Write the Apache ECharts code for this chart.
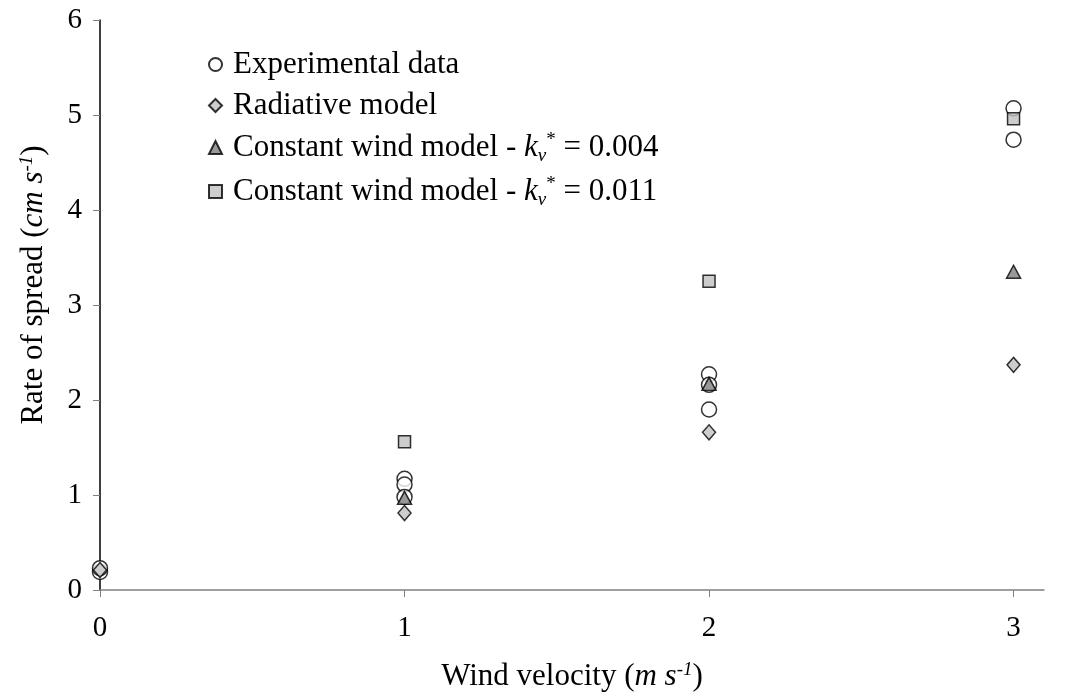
<!DOCTYPE html>
<html>
<head>
<meta charset="utf-8">
<script src="https://cdn.jsdelivr.net/npm/echarts@6/dist/echarts.min.js"></script>
<style>
  html, body { margin: 0; padding: 0; background: #fff; }
  #main { width: 1071px; height: 700px; }
</style>
</head>
<body>
<div id="main"></div>
<script>
// wind velocity (m/s) vs rate of spread (cm/s)
var experimental = [[0, 0.19], [0, 0.23], [1, 1.17], [1, 1.11], [1, 0.98], [2, 2.27], [2, 2.16], [2, 1.90], [3, 5.07], [3, 4.74]];
var radiative = [[0, 0.21], [1, 0.81], [2, 1.66], [3, 2.37]];
var windLow = [[1, 0.97], [2, 2.17], [3, 3.35]];   // k_v* = 0.004
var windHigh = [[1, 1.56], [2, 3.25], [3, 4.96]];  // k_v* = 0.011
var xTicks = [0, 1, 2, 3];

var font = 'Liberation Serif';
var myChart = echarts.init(document.getElementById('main'));

var rich = {
    it: { fontFamily: font, fontSize: 31, fontStyle: 'italic', color: '#000' },
    sub: { fontFamily: font, fontSize: 19, fontStyle: 'italic', color: '#000', padding: [16, 0, 0, 0] },
    sup: { fontFamily: font, fontSize: 19, color: '#000', padding: [0, 0, 14, 0] },
    supi: { fontFamily: font, fontSize: 19, fontStyle: 'italic', color: '#000', padding: [0, 0, 14, 0] }
};

option = {
    backgroundColor: '#fff',
    animation: false,
    grid: { left: 100, right: 27, top: 20, bottom: 110, containLabel: false, outerBoundsMode: 'none' },
    legend: {
        orient: 'vertical',
        left: 203,
        top: 44,
        itemGap: 10,
        itemWidth: 13,
        itemHeight: 13,
        textStyle: { fontFamily: font, fontSize: 31, color: '#000', rich: rich, padding: [0, 0, 0, 6] },
        data: ['Experimental data', 'Radiative model', 'wind1', 'wind2'],
        formatter: function (name) {
            if (name == 'wind1') return 'Constant wind model - {it|k}{sub|v}{sup|*} = 0.004';
            if (name == 'wind2') return 'Constant wind model - {it|k}{sub|v}{sup|*} = 0.011';
            return name;
        }
    },
    xAxis: {
        type: 'value',
        min: 0,
        max: 3.1,
        interval: 1,
        splitLine: { show: false },
        axisLine: { onZero: false, lineStyle: { color: '#808080', width: 1.5 } },
        axisTick: { length: 7, customValues: xTicks, lineStyle: { color: '#808080' } },
        axisLabel: { margin: 24, customValues: xTicks, fontFamily: font, fontSize: 29, color: '#000' },
        name: 'Wind velocity ({it|m s}{supi|-1})',
        nameLocation: 'middle',
        nameGap: 70,
        nameTextStyle: { fontFamily: font, fontSize: 31, color: '#000', rich: rich }
    },
    yAxis: {
        type: 'value',
        min: 0,
        max: 6,
        interval: 1,
        splitLine: { show: false },
        axisLine: { lineStyle: { color: '#000', width: 1.5 } },
        axisTick: { length: 7, lineStyle: { color: '#808080' } },
        axisLabel: { margin: 18, fontFamily: font, fontSize: 29, color: '#000' },
        name: 'Rate of spread ({it|cm s}{supi|-1})',
        nameLocation: 'middle',
        nameRotate: 90,
        nameGap: 50,
        nameTextStyle: { fontFamily: font, fontSize: 31, color: '#000', rich: rich, padding: [0, 0, 0, 40] }
    },
    series: [
        {
            name: 'Experimental data', type: 'scatter', data: experimental,
            symbol: 'circle', symbolSize: 15,
            itemStyle: { color: '#fff', borderColor: '#000', borderWidth: 1.5 }
        },
        {
            name: 'Radiative model', type: 'scatter', data: radiative,
            symbol: 'diamond', symbolSize: [13, 15],
            itemStyle: { color: '#c0c0c0', borderColor: '#000', borderWidth: 1.5 }
        },
        {
            name: 'wind1', type: 'scatter', data: windLow,
            symbol: 'triangle', symbolSize: [14, 13],
            itemStyle: { color: '#808080', borderColor: '#000', borderWidth: 1.5 }
        },
        {
            name: 'wind2', type: 'scatter', data: windHigh,
            symbol: 'rect', symbolSize: 12,
            itemStyle: { color: '#c0c0c0', borderColor: '#000', borderWidth: 1.5 }
        }
    ]
};

myChart.setOption(option);
</script>
</body>
</html>
